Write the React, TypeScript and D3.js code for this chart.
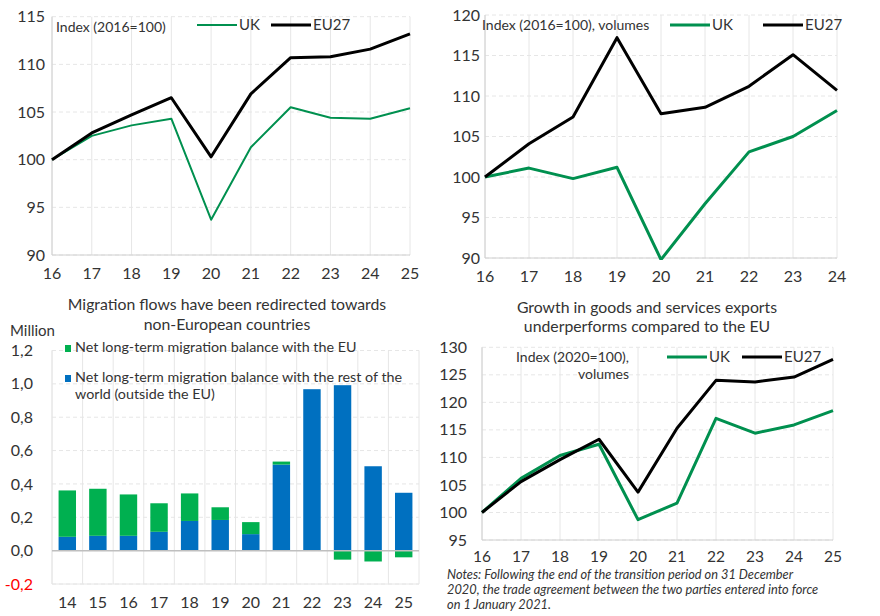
import React from "react";
import * as d3 from "d3";

// ---------- DATA ----------
const years1 = ["16", "17", "18", "19", "20", "21", "22", "23", "24", "25"];
const uk1 = [100, 102.5, 103.6, 104.3, 93.7, 101.3, 105.5, 104.4, 104.3, 105.4];
const eu1 = [100, 102.8, 104.7, 106.5, 100.3, 106.9, 110.7, 110.8, 111.6, 113.2];
const ticks1 = [90, 95, 100, 105, 110, 115];

const years2 = ["16", "17", "18", "19", "20", "21", "22", "23", "24"];
const uk2 = [100, 101.1, 99.8, 101.2, 89.8, 96.7, 103.1, 105.0, 108.2];
const eu2 = [100, 104.1, 107.4, 117.2, 107.8, 108.6, 111.2, 115.1, 110.7];
const ticks2 = [90, 95, 100, 105, 110, 115, 120];

const years3 = ["14", "15", "16", "17", "18", "19", "20", "21", "22", "23", "24", "25"];
const migEU = [0.278, 0.282, 0.248, 0.171, 0.165, 0.076, 0.072, 0.018, 0, -0.054, -0.065, -0.04];
const migRest = [0.083, 0.089, 0.089, 0.113, 0.178, 0.184, 0.099, 0.516, 0.968, 0.992, 0.506, 0.347];
const ticks3 = [-0.2, 0, 0.2, 0.4, 0.6, 0.8, 1.0, 1.2];

const years4 = ["16", "17", "18", "19", "20", "21", "22", "23", "24", "25"];
const uk4 = [100, 106.2, 110.35, 112.4, 98.7, 101.7, 117.1, 114.4, 115.9, 118.5];
const eu4 = [100, 105.6, 109.6, 113.3, 103.7, 115.3, 124.0, 123.7, 124.6, 127.8];
const ticks4 = [95, 100, 105, 110, 115, 120, 125, 130];

// ---------- STYLE ----------
const FONT = "Lato, 'Open Sans', sans-serif";
const GREEN_LINE = "#00904f";
const GREEN_BAR = "#00b050";
const BLUE_BAR = "#0070c0";
const TXT = "#333333";
const GRID = "#e6e6e6";
const AXIS = "#d0d0d0";

type LineProps = {
  cats: string[];
  uk: number[];
  eu: number[];
  ticks: number[];
  x0: number; x1: number; y0: number; y1: number;
  ukWidth: number; euWidth: number;
  yLabelX: number; xLabelY: number; xFont?: number;
};

function LinePanel(p: LineProps) {
  const x = d3.scalePoint<string>().domain(p.cats).range([p.x0, p.x1]);
  const y = d3.scaleLinear().domain([p.ticks[0], p.ticks[p.ticks.length - 1]]).range([p.y1, p.y0]);
  const line = d3.line<number>().x((_, i) => x(p.cats[i]) as number).y((d) => y(d));
  const clipId = "clip" + Math.round(p.x0) + "_" + Math.round(p.y0);
  return (
    <g>
      <defs>
        <clipPath id={clipId}>
          <rect x={p.x0 - 5} y={p.y0 - 5} width={p.x1 - p.x0 + 10} height={p.y1 - p.y0 + 7} />
        </clipPath>
      </defs>
      {p.cats.map((c) => (
        <line key={"v" + c} x1={x(c)} x2={x(c)} y1={p.y0} y2={p.y1} stroke={GRID} strokeWidth={1} />
      ))}
      {p.ticks.map((t) => (
        <line key={"h" + t} x1={p.x0} x2={p.x1} y1={y(t)} y2={y(t)} stroke={GRID} strokeWidth={1} strokeDasharray="4,3" />
      ))}
      <line x1={p.x0} x2={p.x0} y1={p.y0} y2={p.y1} stroke={AXIS} />
      <line x1={p.x0} x2={p.x1} y1={p.y1} y2={p.y1} stroke={AXIS} />
      {p.ticks.map((t) => (
        <text key={"t" + t} x={p.yLabelX} y={y(t)} dy="0.35em" textAnchor="end" fontSize={16} fill={TXT}>
          {t}
        </text>
      ))}
      {p.cats.map((c) => (
        <text key={"x" + c} x={x(c)} y={p.xLabelY} dy="0.35em" textAnchor="middle" fontSize={p.xFont || 16} fill={TXT}>
          {c}
        </text>
      ))}
      <g clipPath={`url(#${clipId})`}>
        <path d={line(p.uk) || ""} fill="none" stroke={GREEN_LINE} strokeWidth={p.ukWidth} strokeLinejoin="round" />
        <path d={line(p.eu) || ""} fill="none" stroke="#000" strokeWidth={p.euWidth} strokeLinejoin="round" />
      </g>
    </g>
  );
}

function LegendItem({ x, y, color, label, w }: { x: number; y: number; color: string; label: string; w: number }) {
  return (
    <g>
      <line x1={x} x2={x + 40} y1={y} y2={y} stroke={color} strokeWidth={w} />
      <text x={x + 42} y={y} dy="0.35em" fontSize={15} fill={TXT}>{label}</text>
    </g>
  );
}

function BarPanel() {
  const x0 = 52, x1 = 419, yTop = 350.5, yBot = 584;
  const x = d3.scaleBand<string>().domain(years3).range([x0, x1]).paddingInner(0.43).paddingOuter(0.215);
  const xb = d3.scaleBand<string>().domain(years3).range([x0, x1]);
  const y = d3.scaleLinear().domain([-0.2, 1.2]).range([yBot, yTop]);
  const fmt = (t: number) => d3.format(".1f")(t).replace(".", ",").replace("−", "-");
  return (
    <g>
      {years3.map((c) => (
        <line key={"v" + c} x1={xb(c) as number} x2={xb(c) as number} y1={yTop} y2={yBot} stroke={GRID} />
      ))}
      <line x1={x1} x2={x1} y1={yTop} y2={yBot} stroke={GRID} />
      {ticks3.map((t) => (
        <line key={"h" + t} x1={x0} x2={x1} y1={y(t)} y2={y(t)} stroke={GRID} strokeDasharray="4,3" />
      ))}
      <line x1={x0} x2={x1} y1={yBot} y2={yBot} stroke={GRID} />
      <line x1={x0} x2={x0} y1={yTop} y2={yBot} stroke={GRID} />
      {years3.map((c, i) => {
        const bx = x(c) as number;
        const bw = x.bandwidth();
        const rest = migRest[i];
        const eu = migEU[i];
        const blueTop = y(Math.max(rest, 0));
        const blue = <rect key={"b" + c} x={bx} y={blueTop} width={bw} height={y(0) - blueTop} fill={BLUE_BAR} />;
        let green;
        if (eu >= 0) {
          green = <rect key={"g" + c} x={bx} y={y(rest + eu)} width={bw} height={y(rest) - y(rest + eu)} fill={GREEN_BAR} />;
        } else {
          green = <rect key={"g" + c} x={bx} y={y(0)} width={bw} height={y(eu) - y(0)} fill={GREEN_BAR} />;
        }
        return <g key={c}>{blue}{green}</g>;
      })}
      <line x1={x0} x2={x1} y1={y(0)} y2={y(0)} stroke="#bfbfbf" strokeWidth={1.5} />
      {ticks3.map((t) => (
        <text key={"t" + t} x={33} y={y(t)} dy="0.35em" textAnchor="end" fontSize={16} fill={t < 0 ? "#ff0000" : TXT}>
          {fmt(t)}
        </text>
      ))}
      {years3.map((c) => (
        <text key={"x" + c} x={(x(c) as number) + x.bandwidth() / 2} y={602} dy="0.35em" textAnchor="middle" fontSize={16} fill={TXT}>
          {c}
        </text>
      ))}
      <text x={10} y={331} dy="0.35em" fontSize={15} fill={TXT}>Million</text>
      <text x={227} y={304} dy="0.35em" textAnchor="middle" fontSize={15.8} fill={TXT}>
        Migration flows have been redirected towards
      </text>
      <text x={227} y={324} dy="0.35em" textAnchor="middle" fontSize={15.8} fill={TXT}>
        non-European countries
      </text>
      <rect x={65} y={345} width={6} height={7} fill={GREEN_BAR} />
      <text x={75} y={347} dy="0.35em" fontSize={14.3} fill={TXT}>Net long-term migration balance with the EU</text>
      <rect x={65} y={375} width={6} height={7} fill={BLUE_BAR} />
      <text x={75} y={377} dy="0.35em" fontSize={14.3} fill={TXT}>Net long-term migration balance with the rest of the</text>
      <text x={75} y={394} dy="0.35em" fontSize={14.3} fill={TXT}>world (outside the EU)</text>
    </g>
  );
}

export default function App() {
  return (
    <svg width={880} height={616} style={{ position: "absolute", left: 0, top: 0, fontFamily: FONT }}>
      <rect width={880} height={616} fill="#fff" />
      {/* Panel 1 */}
      <LinePanel cats={years1} uk={uk1} eu={eu1} ticks={ticks1} x0={52} x1={410} y0={16.7} y1={255}
        ukWidth={2} euWidth={3} yLabelX={45} xLabelY={273} />
      <text x={56} y={27} dy="0.35em" fontSize={14} fill={TXT}>Index (2016=100)</text>
      <LegendItem x={197} y={25} color={GREEN_LINE} label="UK" w={2} />
      <LegendItem x={271} y={25} color="#000" label="EU27" w={3} />

      {/* Panel 2 */}
      <LinePanel cats={years2} uk={uk2} eu={eu2} ticks={ticks2} x0={485} x1={837} y0={15} y1={258}
        ukWidth={3} euWidth={3} yLabelX={480} xLabelY={276} />
      <text x={482} y={25} dy="0.35em" fontSize={14} fill={TXT}>Index (2016=100), volumes</text>
      <LegendItem x={670} y={25} color={GREEN_LINE} label="UK" w={3} />
      <LegendItem x={763} y={25} color="#000" label="EU27" w={3} />

      {/* Panel 3 */}
      <BarPanel />

      {/* Panel 4 */}
      <text x={647} y={307} dy="0.35em" textAnchor="middle" fontSize={15.8} fill={TXT}>
        Growth in goods and services exports
      </text>
      <text x={647} y={326} dy="0.35em" textAnchor="middle" fontSize={15.8} fill={TXT}>
        underperforms compared to the EU
      </text>
      <LinePanel cats={years4} uk={uk4} eu={eu4} ticks={ticks4} x0={482} x1={833} y0={347.3} y1={540}
        ukWidth={3} euWidth={3} yLabelX={467} xLabelY={557} xFont={15.5} />
      <text x={629} y={357} dy="0.35em" textAnchor="end" fontSize={14} fill={TXT}>Index (2020=100),</text>
      <text x={629} y={374} dy="0.35em" textAnchor="end" fontSize={14} fill={TXT}>volumes</text>
      <LegendItem x={667} y={357} color={GREEN_LINE} label="UK" w={3} />
      <LegendItem x={742} y={357} color="#000" label="EU27" w={3} />

      <text fontSize={12.8} fontStyle="italic" fill={TXT}>
        <tspan x={447} y={579}>Notes: Following the end of the transition period on 31 December</tspan>
        <tspan x={447} y={594}>2020, the trade agreement between the two parties entered into force</tspan>
        <tspan x={447} y={609}>on 1 January 2021.</tspan>
      </text>
    </svg>
  );
}
